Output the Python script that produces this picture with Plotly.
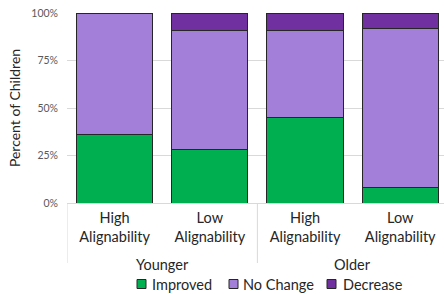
import plotly.graph_objects as go

groups = ["Younger", "Younger", "Older", "Older"]
conditions = ["High<br>Alignability", "Low<br>Alignability", "High<br>Alignability", "Low<br>Alignability"]
improved = [36, 28, 45, 8]
no_change = [64, 63, 46, 84]
decrease = [0, 9, 9, 8]
y_ticks = [0, 25, 50, 75, 100]
y_tick_text = ["0%", "25%", "50%", "75%", "100%"]
series_names = ["Improved", "No Change", "Decrease"]
series_colors = ["#00B050", "#A47FD9", "#7030A0"]

W, H = 444, 294
L, R, T, B = 67, 0, 13, 91
pw, ph = W - L - R, H - T - B

xpos = list(range(len(conditions)))

fig = go.Figure()
for name, vals, color in zip(series_names, [improved, no_change, decrease], series_colors):
    fig.add_trace(go.Bar(
        x=xpos, y=vals, name=name, showlegend=False,
        marker=dict(color=color, line=dict(color="#262626", width=1)),
    ))

# group labels and dividers
unique_groups = []
for g in groups:
    if g not in unique_groups:
        unique_groups.append(g)
bounds = [-0.5]
for g in unique_groups:
    idx = [i for i, gg in enumerate(groups) if gg == g]
    center = sum(idx) / len(idx)
    fig.add_annotation(x=center, xref="x", y=-(264 - (T + ph)) / ph,
                       yref="paper", text=g, showarrow=False,
                       font=dict(size=14.5, color="#262626"), yanchor="middle")
    bounds.append(max(idx) + 0.5)
for bx in bounds:
    fig.add_shape(type="line", xref="x", yref="paper", x0=bx, x1=bx, y0=0, y1=-60 / ph,
                  line=dict(color="#D9D9D9", width=1))

# manual legend
leg_sym_x = [137, 229, 327]
leg_txt_x = [150, 241, 341]
leg_y = 284
for name, color, sx, tx in zip(series_names, series_colors, leg_sym_x, leg_txt_x):
    fig.add_shape(type="rect", xref="paper", yref="paper",
                  x0=(sx - L) / pw, x1=(sx + 9 - L) / pw,
                  y0=(H - B - (leg_y - 4.5)) / ph, y1=(H - B - (leg_y + 4.5)) / ph,
                  fillcolor=color, line=dict(color="#262626", width=1))
    fig.add_annotation(x=(tx - L) / pw, xref="paper", y=(H - B - leg_y) / ph, yref="paper",
                       text=name, showarrow=False, xanchor="left", yanchor="middle",
                       font=dict(size=14.5, color="#262626"))

fig.update_layout(
    barmode="stack",
    bargap=0.2,
    width=W, height=H,
    margin=dict(l=L, r=R, t=T, b=B, autoexpand=False),
    plot_bgcolor="white", paper_bgcolor="white",
    font=dict(family="Lato, Carlito, sans-serif", size=13, color="#262626"),
    showlegend=False,
)
fig.update_xaxes(
    range=[-0.5, 3.46],
    tickvals=xpos, ticktext=conditions,
    showline=True, linecolor="#D9D9D9", linewidth=1,
    showgrid=False, zeroline=False,
    tickfont=dict(size=14.5, color="#262626"),
    ticks="", ticklabelstandoff=2,
    automargin=False,
)
fig.update_yaxes(
    range=[0, 100],
    tickvals=y_ticks, ticktext=y_tick_text,
    showgrid=True, gridcolor="#D9D9D9", gridwidth=1,
    zeroline=False, showline=False,
    tickfont=dict(size=10.5, color="#595959"),
    ticklabelstandoff=8,
    title=dict(text="Percent of Children", font=dict(size=14, color="#262626"), standoff=7),
    automargin=False,
)

fig.write_html("out.html", config={"displayModeBar": False},
               post_script="document.body.style.margin='0px';")
